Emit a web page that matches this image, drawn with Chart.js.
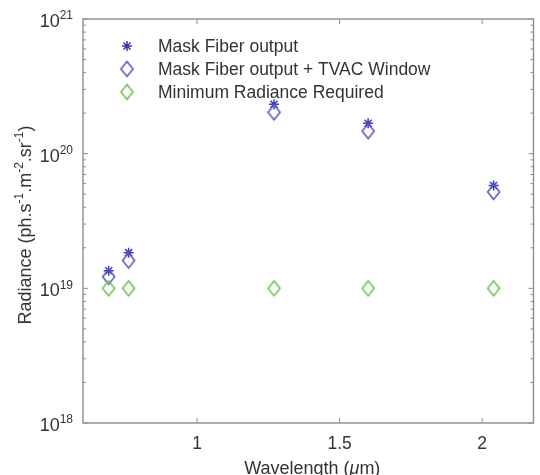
<!DOCTYPE html>
<html><head><meta charset="utf-8">
<script src="https://cdn.jsdelivr.net/npm/chart.js@4/dist/chart.umd.min.js"></script>
<style>html,body{margin:0;padding:0;background:#fff}#wrap{width:540px;height:475px}</style>
</head><body><div id="wrap"><canvas id="c" width="540" height="475"></canvas></div>
<script>
// ---- data ----
const wavelengths = [0.69, 0.76, 1.27, 1.60, 2.04];
const maskFiberOutput = [1.35e19, 1.84e19, 2.33e20, 1.68e20, 5.8e19];
const maskFiberTvac = [1.22e19, 1.61e19, 2.03e20, 1.47e20, 5.2e19];
const minRadiance = [1e19, 1e19, 1e19, 1e19, 1e19];
const seriesLabels = ['Mask Fiber output', 'Mask Fiber output + TVAC Window', 'Minimum Radiance Required'];
const xTicks = [1, 1.5, 2];
const xTickLabels = ['1', '1.5', '2'];
const yExponents = [18, 19, 20, 21];

// ---- styles ----
const STAR_COLOR = '#3d3db2';
const BLUE_DIA = '#5a5ac0';
const GREEN_DIA = '#72c352';
const AXIS_COLOR = '#8e8e8e';
const TEXT_COLOR = '#333333';
const FONT = '"Liberation Sans", Arial, Helvetica, sans-serif';

function diamond(color, w, h, lw) {
  const c = document.createElement('canvas');
  c.width = w + 2 * lw + 2; c.height = h + 2 * lw + 2;
  const g = c.getContext('2d');
  const cx = c.width / 2, cy = c.height / 2;
  g.strokeStyle = color; g.lineWidth = lw;
  g.beginPath();
  g.moveTo(cx, cy - h / 2); g.lineTo(cx + w / 2, cy); g.lineTo(cx, cy + h / 2); g.lineTo(cx - w / 2, cy); g.closePath();
  g.stroke();
  return c;
}
const blueDiamond = diamond(BLUE_DIA, 12, 15, 1.6);
const greenDiamond = diamond(GREEN_DIA, 12, 15, 1.6);

const toPts = (xs, ys) => xs.map((x, i) => ({x: x, y: ys[i]}));

function drawStar(ctx, x, y, r, color, lw) {
  ctx.save(); ctx.strokeStyle = color; ctx.lineWidth = lw; ctx.beginPath();
  for (let k = 0; k < 4; k++) {
    const a = k * Math.PI / 4;
    ctx.moveTo(x - r * Math.sin(a), y - r * Math.cos(a));
    ctx.lineTo(x + r * Math.sin(a), y + r * Math.cos(a));
  }
  ctx.stroke(); ctx.restore();
}

function drawSupText(ctx, parts, x, y, size, supSize, align) {
  let total = 0;
  parts.forEach(p => { ctx.font = (p[1] ? supSize : size) + 'px ' + FONT; total += ctx.measureText(p[0]).width; });
  let cx = align === 'right' ? x - total : (align === 'center' ? x - total / 2 : x);
  ctx.textAlign = 'left'; ctx.textBaseline = 'alphabetic';
  parts.forEach(p => {
    ctx.font = (p[1] ? supSize : size) + 'px ' + FONT;
    ctx.fillText(p[0], cx, p[1] ? y - size * 0.42 : y);
    cx += ctx.measureText(p[0]).width;
  });
}

const framePlugin = {
  id: 'frame',
  beforeDatasetsDraw(chart) {
    const {ctx, chartArea: a, scales: {x, y}} = chart;
    ctx.save();
    ctx.strokeStyle = AXIS_COLOR; ctx.lineWidth = 1.4;
    ctx.strokeRect(a.left, a.top, a.right - a.left, a.bottom - a.top);
    ctx.beginPath();
    xTicks.forEach(v => {
      const px = x.getPixelForValue(v);
      ctx.moveTo(px, a.bottom); ctx.lineTo(px, a.bottom - 5);
      ctx.moveTo(px, a.top); ctx.lineTo(px, a.top + 5);
    });
    yExponents.forEach((e, i) => {
      const py = y.getPixelForValue(Math.pow(10, e));
      ctx.moveTo(a.left, py); ctx.lineTo(a.left + 5, py);
      ctx.moveTo(a.right, py); ctx.lineTo(a.right - 5, py);
      if (i < yExponents.length - 1) {
        for (let k = 2; k <= 9; k++) {
          const pm = y.getPixelForValue(k * Math.pow(10, e));
          ctx.moveTo(a.left, pm); ctx.lineTo(a.left + 3, pm);
          ctx.moveTo(a.right, pm); ctx.lineTo(a.right - 3, pm);
        }
      }
    });
    ctx.lineWidth = 1; ctx.stroke();
    ctx.restore();
  },
  afterDraw(chart) {
    const {ctx, chartArea: a, scales: {x, y}} = chart;
    ctx.save();
    ctx.fillStyle = TEXT_COLOR;
    // x tick labels
    ctx.font = '17.5px ' + FONT; ctx.textAlign = 'center'; ctx.textBaseline = 'middle';
    xTicks.forEach((v, i) => ctx.fillText(xTickLabels[i], x.getPixelForValue(v), a.bottom + 21));
    // y tick labels
    yExponents.forEach(e => {
      const py = y.getPixelForValue(Math.pow(10, e));
      drawSupText(ctx, [['10', false], [String(e), true]], 73, py + 8, 18, 12, 'right');
    });
    // x title
    const fs = 18;
    ctx.textAlign = 'left'; ctx.textBaseline = 'alphabetic';
    const t1 = 'Wavelength (', t2 = '\u03bc', t3 = 'm)';
    ctx.font = fs + 'px ' + FONT;
    const w1 = ctx.measureText(t1).width;
    ctx.font = 'italic ' + fs + 'px ' + FONT; const w2 = ctx.measureText(t2).width;
    ctx.font = fs + 'px ' + FONT; const w3 = ctx.measureText(t3).width;
    let sx = (a.left + a.right) / 2 + 4 - (w1 + w2 + w3) / 2;
    const ty = 474;
    ctx.fillText(t1, sx, ty); sx += w1;
    ctx.font = 'italic ' + fs + 'px ' + FONT; ctx.fillText(t2, sx, ty); sx += w2;
    ctx.font = fs + 'px ' + FONT; ctx.fillText(t3, sx, ty);
    // y title
    ctx.save();
    ctx.translate(31, (a.top + a.bottom) / 2 + 4);
    ctx.rotate(-Math.PI / 2);
    drawSupText(ctx, [['Radiance (ph.s', false], ['-1', true], ['.m', false], ['-2', true], ['.sr', false], ['-1', true], [')', false]], 0, 0, 18, 12, 'center');
    ctx.restore();
    // legend
    const lx = 127, ly = [46, 69, 92], tx = 158;
    drawStar(ctx, lx, ly[0], 5, STAR_COLOR, 1.5);
    ctx.drawImage(blueDiamond, lx - blueDiamond.width / 2, ly[1] - blueDiamond.height / 2);
    ctx.drawImage(greenDiamond, lx - greenDiamond.width / 2, ly[2] - greenDiamond.height / 2);
    ctx.fillStyle = TEXT_COLOR; ctx.font = '17.5px ' + FONT; ctx.textAlign = 'left'; ctx.textBaseline = 'middle';
    seriesLabels.forEach((s, i) => ctx.fillText(s, tx, ly[i] + 1));
    ctx.restore();
  }
};

new Chart(document.getElementById('c'), {
  type: 'scatter',
  data: {
    datasets: [
      {label: seriesLabels[0], data: toPts(wavelengths, maskFiberOutput), pointStyle: 'star', pointRadius: 5, borderColor: STAR_COLOR, backgroundColor: STAR_COLOR, borderWidth: 1.5, order: 2},
      {label: seriesLabels[1], data: toPts(wavelengths, maskFiberTvac), pointStyle: blueDiamond, order: 1},
      {label: seriesLabels[2], data: toPts(wavelengths, minRadiance), pointStyle: greenDiamond, order: 0}
    ]
  },
  options: {
    responsive: false, animation: false, devicePixelRatio: 1,
    layout: {padding: {top: 19, right: 2, left: 0, bottom: 0}},
    plugins: {legend: {display: false}, tooltip: {enabled: false}},
    events: [],
    scales: {
      x: {type: 'linear', min: 0.6, max: 2.18, grid: {display: false}, border: {display: false}, ticks: {display: false}, afterFit(s) { s.height = 52; }},
      y: {type: 'logarithmic', min: 1e18, max: 1e21, grid: {display: false}, border: {display: false}, ticks: {display: false}, afterFit(s) { s.width = 83; }}
    }
  },
  plugins: [framePlugin]
});
</script>
</body></html>
